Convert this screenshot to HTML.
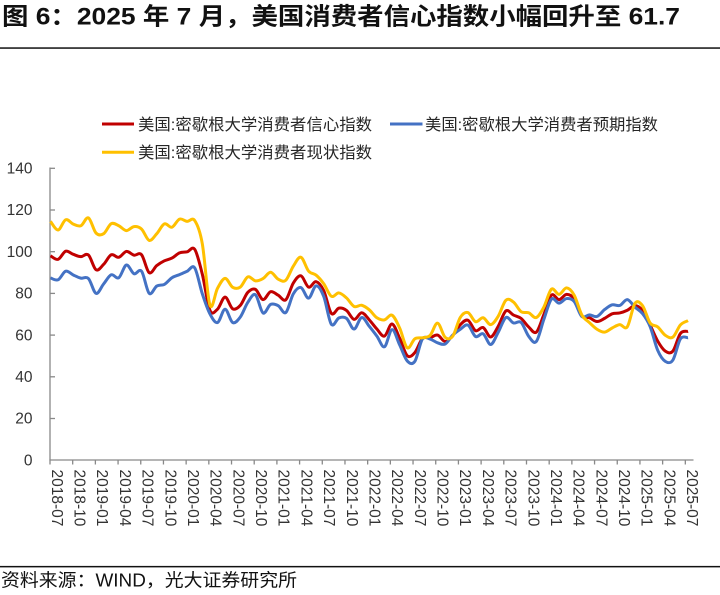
<!DOCTYPE html>
<html>
<head>
<meta charset="utf-8">
<style>
  html,body{margin:0;padding:0;background:#fff;}
  body{width:720px;height:595px;overflow:hidden;}
  svg{display:block;}
  .cjk{font-family:"Liberation Sans","Noto Sans CJK SC",sans-serif;}
  .num{font-family:"Liberation Sans",sans-serif;}
</style>
</head>
<body>
<svg id="chart" width="720" height="595" viewBox="0 0 720 595" xmlns="http://www.w3.org/2000/svg">
  <rect x="0" y="0" width="720" height="595" fill="#fff"/>
  <!-- Title -->
  <text class="cjk" x="2" y="24.5" font-size="24" font-weight="bold" fill="#111" textLength="678" lengthAdjust="spacingAndGlyphs">图 6：2025 年 7 月，美国消费者信心指数小幅回升至 61.7</text>
  <rect x="0" y="47.3" width="720" height="1.5" fill="#111"/>

  <!-- Legend -->
  <line x1="102" y1="124" x2="134" y2="124" stroke="#C00000" stroke-width="3"/>
  <text class="cjk" x="138" y="129.8" font-size="16" fill="#262626" textLength="234" lengthAdjust="spacingAndGlyphs">美国:密歇根大学消费者信心指数</text>
  <line x1="390" y1="124" x2="422.5" y2="124" stroke="#4472C4" stroke-width="3"/>
  <text class="cjk" x="425" y="129.8" font-size="16" fill="#262626" textLength="233" lengthAdjust="spacingAndGlyphs">美国:密歇根大学消费者预期指数</text>
  <line x1="102" y1="152.3" x2="134" y2="152.3" stroke="#FFC000" stroke-width="3"/>
  <text class="cjk" x="138" y="158.1" font-size="16" fill="#262626" textLength="234" lengthAdjust="spacingAndGlyphs">美国:密歇根大学消费者现状指数</text>

  <!-- Y axis labels -->
  <g class="num" font-size="15.5" fill="#333" text-anchor="end">
    <text x="32.5" y="173.5">140</text>
    <text x="32.5" y="215.2">120</text>
    <text x="32.5" y="256.9">100</text>
    <text x="32.5" y="298.6">80</text>
    <text x="32.5" y="340.3">60</text>
    <text x="32.5" y="382">40</text>
    <text x="32.5" y="423.7">20</text>
    <text x="32.5" y="465.4">0</text>
  </g>

  <!-- Axes -->
  <g stroke="#898989" stroke-width="1.3" fill="none">
    <line x1="50" y1="167.5" x2="50" y2="460"/>
    <line x1="49.4" y1="460" x2="693.5" y2="460"/>
    <line x1="50" y1="168.3" x2="55" y2="168.3"/>
    <line x1="50" y1="210" x2="55" y2="210"/>
    <line x1="50" y1="251.7" x2="55" y2="251.7"/>
    <line x1="50" y1="293.4" x2="55" y2="293.4"/>
    <line x1="50" y1="335.1" x2="55" y2="335.1"/>
    <line x1="50" y1="376.8" x2="55" y2="376.8"/>
    <line x1="50" y1="418.5" x2="55" y2="418.5"/>
  </g>
  <g id="xticks" stroke="#898989" stroke-width="1.3"></g>
  <g id="xlabels" class="num" font-size="15.5" fill="#333"></g>

  <!-- Series -->
  <g id="series" fill="none" stroke-width="3" stroke-linejoin="round" stroke-linecap="butt"></g>

  <!-- Footer -->
  <rect x="0" y="565.9" width="720" height="1.5" fill="#111"/>
  <text class="cjk" x="1" y="586.5" font-size="18" fill="#111" textLength="296" lengthAdjust="spacingAndGlyphs">资料来源：WIND，光大证券研究所</text>
</svg>
<script>
(function(){
  var NS="http://www.w3.org/2000/svg";
  var labels=["2018-07","2018-10","2019-01","2019-04","2019-07","2019-10","2020-01","2020-04","2020-07","2020-10","2021-01","2021-04","2021-07","2021-10","2022-01","2022-04","2022-07","2022-10","2023-01","2023-04","2023-07","2023-10","2024-01","2024-04","2024-07","2024-10","2025-01","2025-04","2025-07"];
  var tg=document.getElementById("xticks"), lg=document.getElementById("xlabels");
  for(var k=0;k<labels.length;k++){
    var x=50+k*22.69;
    var l=document.createElementNS(NS,"line");
    l.setAttribute("x1",x);l.setAttribute("x2",x);l.setAttribute("y1",460);l.setAttribute("y2",464.5);
    tg.appendChild(l);
    var t=document.createElementNS(NS,"text");
    t.setAttribute("transform","translate("+(x+1.8)+",469.5) rotate(90)");
    t.setAttribute("x",0);t.setAttribute("y",0);
    t.textContent=labels[k];
    lg.appendChild(t);
  }
  var sent=[97.9,96.2,100.1,98.6,97.5,98.3,
    91.2,93.8,98.4,97.2,100.0,98.2,98.4,89.8,93.2,95.5,96.8,99.3,
    99.8,101.0,89.1,71.8,72.3,78.1,72.5,74.1,80.4,81.8,76.9,80.7,
    79.0,76.8,84.9,88.3,82.9,85.5,81.2,70.3,72.8,71.7,67.4,70.6,
    67.2,62.8,59.4,65.2,58.4,50.0,51.5,58.2,58.6,59.9,56.8,59.7,
    64.9,67.0,62.0,63.5,59.0,64.2,71.5,69.5,67.9,63.8,61.3,69.7,
    79.0,76.9,79.4,77.2,69.1,68.2,66.4,67.9,70.1,70.5,71.8,74.0,
    71.7,64.7,57.0,52.2,52.2,60.7,61.7];
  var cur=[114.4,110.3,115.2,113.1,112.3,116.1,
    108.8,108.5,113.3,112.3,110.0,111.9,110.7,105.3,108.5,113.2,111.6,115.5,
    114.4,114.8,103.7,74.3,82.3,87.1,82.8,82.9,87.8,85.9,87.0,90.0,
    86.7,86.2,93.0,97.2,90.6,88.6,84.5,78.5,80.1,77.7,73.6,74.2,
    72.0,68.2,67.2,69.4,63.3,53.8,58.1,58.6,59.7,65.6,58.8,59.4,
    68.4,70.7,66.3,68.2,64.9,69.0,76.6,75.7,71.1,70.6,68.3,73.3,
    81.9,79.4,82.5,79.0,69.6,65.9,62.7,61.3,63.3,64.9,63.9,75.1,
    74.0,65.7,63.8,59.8,58.9,64.8,66.8];
  var exp=[87.3,86.4,90.5,88.7,87.2,87.0,
    79.9,84.4,88.8,87.4,93.5,89.3,90.5,79.9,83.4,84.2,87.4,88.9,
    90.5,92.1,79.7,70.1,65.9,72.3,65.9,68.5,75.6,79.2,70.5,74.6,
    74.0,70.7,79.7,82.7,77.6,83.5,78.4,65.1,68.1,67.9,62.8,68.3,
    64.1,59.4,54.3,62.5,55.2,47.5,47.3,58.0,58.0,56.2,55.6,59.9,
    62.7,64.7,59.2,60.5,55.4,61.3,68.3,65.7,66.0,59.3,56.8,67.4,
    77.1,75.2,77.4,76.0,68.8,69.6,68.8,72.1,74.4,74.1,76.9,73.3,
    70.2,64.0,52.6,47.3,47.9,58.1,58.6];
  function X(i){return 50.5+i*7.59;}
  function Y(v){return 460-v*2.0857;}
  function path(vals){
    var p=vals.map(function(v,i){return [X(i),Y(v)];});
    var d="M"+p[0][0].toFixed(2)+","+p[0][1].toFixed(2);
    for(var i=0;i<p.length-1;i++){
      var p0=p[i-1]||p[i], p1=p[i], p2=p[i+1], p3=p[i+2]||p[i+1];
      var c1x=p1[0]+(p2[0]-p0[0])/6, c1y=p1[1]+(p2[1]-p0[1])/6;
      var c2x=p2[0]-(p3[0]-p1[0])/6, c2y=p2[1]-(p3[1]-p1[1])/6;
      d+=" C"+c1x.toFixed(2)+","+c1y.toFixed(2)+" "+c2x.toFixed(2)+","+c2y.toFixed(2)+" "+p2[0].toFixed(2)+","+p2[1].toFixed(2);
    }
    return d;
  }
  var g=document.getElementById("series");
  [[sent,"#C00000"],[exp,"#4472C4"],[cur,"#FFC000"]].forEach(function(s){
    var e=document.createElementNS(NS,"path");
    e.setAttribute("d",path(s[0]));
    e.setAttribute("stroke",s[1]);
    g.appendChild(e);
  });
})();
</script>
</body>
</html>
